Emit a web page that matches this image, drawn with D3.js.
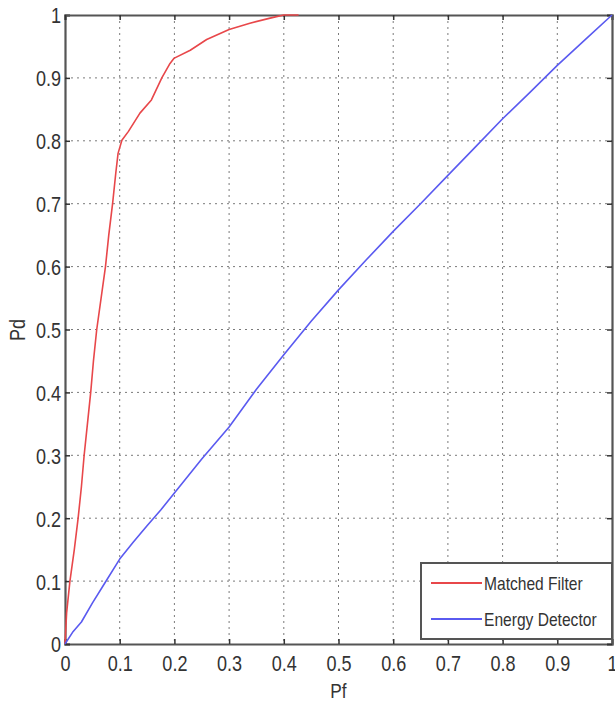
<!DOCTYPE html>
<html>
<head>
<meta charset="utf-8">
<script src="https://cdn.jsdelivr.net/npm/d3@7"></script>
<style>
  html, body { margin: 0; padding: 0; background: #fff; }
  svg text { font-family: "Liberation Sans", Arial, sans-serif; fill: #333; }
</style>
</head>
<body>
<svg id="chart" width="615" height="704"></svg>
<script>
// Probability of false alarm (Pf) vs probability of detection (Pd)
const matchedPf = [0, 0.003, 0.009, 0.017, 0.024, 0.030, 0.035, 0.041, 0.047, 0.052, 0.058, 0.066, 0.074, 0.080, 0.087, 0.093, 0.097, 0.104, 0.116, 0.137, 0.158, 0.177, 0.192, 0.199, 0.229, 0.259, 0.300, 0.338, 0.375, 0.400, 0.427];
const matchedPd = [0, 0.050, 0.100, 0.150, 0.200, 0.250, 0.300, 0.350, 0.400, 0.450, 0.500, 0.550, 0.600, 0.650, 0.700, 0.750, 0.780, 0.801, 0.815, 0.844, 0.865, 0.900, 0.923, 0.931, 0.944, 0.961, 0.977, 0.987, 0.995, 1.000, 1.000];

const energyPf = [0, 0.015, 0.030, 0.050, 0.070, 0.100, 0.125, 0.150, 0.175, 0.200, 0.250, 0.300, 0.350, 0.400, 0.450, 0.500, 0.550, 0.600, 0.650, 0.700, 0.750, 0.800, 0.850, 0.900, 0.950, 1.000];
const energyPd = [0, 0.020, 0.035, 0.065, 0.093, 0.135, 0.162, 0.188, 0.213, 0.240, 0.294, 0.345, 0.405, 0.460, 0.513, 0.563, 0.610, 0.656, 0.700, 0.745, 0.790, 0.835, 0.877, 0.920, 0.960, 1.000];

const xTicks = [0, 0.1, 0.2, 0.3, 0.4, 0.5, 0.6, 0.7, 0.8, 0.9, 1];
const yTicks = [0, 0.1, 0.2, 0.3, 0.4, 0.5, 0.6, 0.7, 0.8, 0.9, 1];
const seriesNames = ["Matched Filter", "Energy Detector"];
const seriesColors = ["#e8474a", "#5a5af0"];

const svg = d3.select("#chart");
const plotL = 65, plotR = 612, plotT = 15, plotB = 644;
const narrow = 0.82; // horizontal squeeze for the condensed lettering

const x = d3.scaleLinear().domain([0, 1]).range([plotL, plotR]);
const y = d3.scaleLinear().domain([0, 1]).range([plotB, plotT]);
const fmt = d => String(d);

// squeeze text glyphs horizontally, keeping the anchor point
function condense(sel) {
  sel.each(function () {
    const w = this.getComputedTextLength();
    d3.select(this).attr("textLength", w * narrow).attr("lengthAdjust", "spacingAndGlyphs");
  });
}

// plot background
svg.append("rect").attr("x", plotL).attr("y", plotT)
  .attr("width", plotR - plotL).attr("height", plotB - plotT).attr("fill", "#fff");

// dotted grid
const grid = svg.append("g").attr("stroke", "#7a7a7a").attr("stroke-width", 1)
  .attr("stroke-dasharray", "2,4");
grid.selectAll(".gx").data(xTicks.slice(1, -1)).join("line")
  .attr("x1", d => x(d)).attr("x2", d => x(d)).attr("y1", plotT).attr("y2", plotB);
grid.selectAll(".gy").data(yTicks.slice(1, -1)).join("line")
  .attr("y1", d => y(d)).attr("y2", d => y(d)).attr("x1", plotL).attr("x2", plotR);

// axes with inward ticks on all four sides
const tickLen = 5;
const axisColor = "#555";
const bottomAxis = svg.append("g").attr("transform", `translate(0,${plotB})`)
  .call(d3.axisBottom(x).tickValues(xTicks).tickSize(-tickLen).tickPadding(11).tickFormat(fmt));
const leftAxis = svg.append("g").attr("transform", `translate(${plotL},0)`)
  .call(d3.axisLeft(y).tickValues(yTicks).tickSize(-tickLen).tickPadding(4).tickFormat(fmt));
const topAxis = svg.append("g").attr("transform", `translate(0,${plotT})`)
  .call(d3.axisTop(x).tickValues(xTicks).tickSize(-tickLen).tickFormat(""));
const rightAxis = svg.append("g").attr("transform", `translate(${plotR},0)`)
  .call(d3.axisRight(y).tickValues(yTicks).tickSize(-tickLen).tickFormat(""));

[bottomAxis, leftAxis, topAxis, rightAxis].forEach(g => {
  g.select(".domain").attr("stroke", axisColor).attr("stroke-width", 2.2);
  g.selectAll(".tick line").attr("stroke", "#333").attr("stroke-width", 1.5);
  g.selectAll(".tick text").attr("font-size", 22).attr("fill", "#3a3a3a")
    .style("font-family", '"Liberation Sans", Arial, sans-serif');
});
leftAxis.selectAll(".tick text").attr("dy", "0.36em");
bottomAxis.selectAll(".tick text").call(condense);
leftAxis.selectAll(".tick text").call(condense);

// curves
const line = d3.line().x(d => x(d[0])).y(d => y(d[1]));
const series = [
  d3.zip(matchedPf, matchedPd),
  d3.zip(energyPf, energyPd)
];
svg.append("g").selectAll("path").data(series).join("path")
  .attr("d", line)
  .attr("fill", "none")
  .attr("stroke", (d, i) => seriesColors[i])
  .attr("stroke-width", 1.6)
  .attr("stroke-linejoin", "round");

// axis labels
svg.append("text").attr("x", x(0.5)).attr("y", 698)
  .attr("text-anchor", "middle").attr("font-size", 21).text("Pf").call(condense);
svg.append("text").attr("transform", "translate(25,330) rotate(-90)")
  .attr("text-anchor", "middle").attr("font-size", 22).text("Pd").call(condense);

// legend
const lg = svg.append("g");
lg.append("rect").attr("x", 421).attr("y", 563).attr("width", plotR - 421).attr("height", 76)
  .attr("fill", "#fff").attr("stroke", "#555").attr("stroke-width", 2);
seriesNames.forEach((name, i) => {
  const cy = 583 + i * 36;
  lg.append("line").attr("x1", 431).attr("x2", 482).attr("y1", cy).attr("y2", cy)
    .attr("stroke", seriesColors[i]).attr("stroke-width", 1.8);
  lg.append("text").attr("x", 484).attr("y", cy).attr("dy", "0.38em")
    .attr("font-size", 19).text(name).call(condense);
});
</script>
</body>
</html>
